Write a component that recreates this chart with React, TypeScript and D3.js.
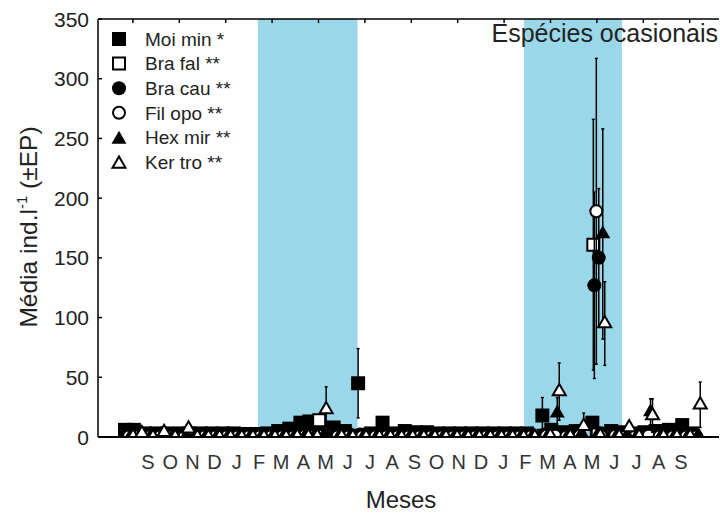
import { scaleLinear, symbol, symbolSquare, symbolCircle, symbolTriangle } from 'd3'

const MONTHS = ['S', 'O', 'N', 'D', 'J', 'F', 'M', 'A', 'M', 'J', 'J', 'A', 'S', 'O', 'N', 'D', 'J', 'F', 'M', 'A', 'M', 'J', 'J', 'A', 'S']
const Y_TICKS = [0, 50, 100, 150, 200, 250, 300, 350]
// top frame ticks, in months from the first September
const TOP_TICKS = [-0.68, 1.41, 3.5, 5.59, 7.68, 9.77, 11.86, 13.95, 16.04, 18.13, 20.22, 22.31, 24.4]
// shaded (rainy) periods, months from the first September
const SEASONS = [[4.95, 9.44], [16.94, 21.35]]

// sampling dates, months from the first September
const SAMPLES = [
  -0.9, -0.5, 0, 0.5, 1, 1.6, 2, 2.5, 3, 3.5, 4, 4.5, 5, 5.5, 6, 6.5, 7, 7.4, 7.8, 8.5,
  9, 9.6, 10.2, 10.7, 11.2, 11.7, 12.2, 12.7, 13.2, 13.7, 14.2, 14.7, 15.2, 15.7, 16.2, 16.7,
  17.2, 17.9, 18.3, 18.8, 19.4, 20.15, 20.35, 21, 21.45, 21.9, 22.5, 23, 23.6, 24.2, 24.65,
]

const MOI_MIN = [6, 6, 3, 3, 3, 3, 3, 3, 3, 3, 3, 2.5, 2.5, 3, 5, 7, 12, 13, 10, 8, 5, 45, 3, 12, 3, 5, 4, 4, 3, 3, 3, 3, 3, 3, 3, 3, 3, 18, 6, 4, 5, 12, 3, 5, 4, 3, 4, 5, 6, 10, 3]
const MOI_MIN_EP = [2, 1, 0, 0, 0, 0, 0, 0, 0, 0, 0, 0, 0, 0, 1, 2, 3, 3, 2, 2, 1, 29, 0, 3, 0, 0, 0, 0, 0, 0, 0, 0, 0, 0, 0, 0, 0, 15, 2, 1, 1, 3, 0, 1, 0, 0, 0, 1, 1, 2, 0]
const BRA_FAL = [1, 0.5, 0.5, 0.5, 0.5, 0.5, 0.5, 0.5, 0.5, 0.5, 0.5, 0.5, 0.5, 0.5, 1, 1, 2, 2, 14, 1, 0.5, 1, 0.5, 0.5, 0.5, 0.5, 0.5, 0.5, 0.5, 0.5, 0.5, 0.5, 0.5, 0.5, 0.5, 0.5, 0.5, 1, 1, 0.5, 1, 161, 2, 1, 0.5, 0.5, 1, 0.5, 0.5, 0.5, 0.5]
const BRA_FAL_EP = [0, 0, 0, 0, 0, 0, 0, 0, 0, 0, 0, 0, 0, 0, 0, 0, 0, 0, 3, 0, 0, 0, 0, 0, 0, 0, 0, 0, 0, 0, 0, 0, 0, 0, 0, 0, 0, 0, 0, 0, 0, 105, 0, 0, 0, 0, 0, 0, 0, 0, 0]
const BRA_CAU = [2, 2, 2, 2, 2, 2, 2, 2, 2, 2, 2, 2, 2, 2, 2, 2, 2, 2, 2, 2, 2, 2, 2, 2, 2, 2, 2, 2, 2, 2, 2, 2, 2, 2, 2, 2, 2, 2, 2, 2, 2, 127, 150, 2, 2, 2, 2, 2, 2, 2, 2]
const BRA_CAU_EP = [0, 0, 0, 0, 0, 0, 0, 0, 0, 0, 0, 0, 0, 0, 0, 0, 0, 0, 0, 0, 0, 0, 0, 0, 0, 0, 0, 0, 0, 0, 0, 0, 0, 0, 0, 0, 0, 0, 0, 0, 0, 78, 58, 0, 0, 0, 0, 0, 0, 0, 0]
const FIL_OPO = [0.5, 0.5, 0.5, 0.5, 0.5, 0.5, 0.5, 0.5, 0.5, 0.5, 0.5, 0.5, 0.5, 0.5, 0.5, 0.5, 1, 1, 1, 0.5, 0.5, 0.5, 0.5, 0.5, 0.5, 0.5, 0.5, 0.5, 0.5, 0.5, 0.5, 0.5, 0.5, 0.5, 0.5, 0.5, 0.5, 1, 1, 0.5, 1, 189, 1, 1, 0.5, 0.5, 1, 0.5, 0.5, 0.5, 0.5]
const FIL_OPO_EP = [0, 0, 0, 0, 0, 0, 0, 0, 0, 0, 0, 0, 0, 0, 0, 0, 0, 0, 0, 0, 0, 0, 0, 0, 0, 0, 0, 0, 0, 0, 0, 0, 0, 0, 0, 0, 0, 0, 0, 0, 0, 128, 0, 0, 0, 0, 0, 0, 0, 0, 0]
const HEX_MIR = [1.5, 1.5, 1.5, 1.5, 1.5, 1.5, 1.5, 1.5, 1.5, 1.5, 1.5, 1.5, 1.5, 1.5, 1.5, 2, 3, 3, 2, 1.5, 1.5, 1.5, 1.5, 1.5, 1.5, 1.5, 1.5, 1.5, 1.5, 1.5, 1.5, 1.5, 1.5, 1.5, 1.5, 1.5, 1.5, 2, 20, 2, 3, 3, 170, 2, 1.5, 1.5, 21, 2, 1.5, 1.5, 1.5]
const HEX_MIR_EP = [0, 0, 0, 0, 0, 0, 0, 0, 0, 0, 0, 0, 0, 0, 0, 0, 0, 0, 0, 0, 0, 0, 0, 0, 0, 0, 0, 0, 0, 0, 0, 0, 0, 0, 0, 0, 0, 0, 13, 0, 0, 0, 88, 0, 0, 0, 11, 0, 0, 0, 0]
const KER_TRO = [0.5, 3, 0, 4, 0, 7, 0, 0, 0, 0, 0, 0, 0, 0, 0, 0.5, 0.5, 0.5, 23, 0.5, 0, 0, 0, 0, 0, 0, 0, 0, 0, 0, 0, 0, 0, 0, 0, 0, 0, 1, 38, 0.5, 9, 1, 95, 0.5, 8, 0.5, 18, 0.5, 0.5, 0.5, 27]
const KER_TRO_EP = [0, 0, 0, 0, 0, 1, 0, 0, 0, 0, 0, 0, 0, 0, 0, 0, 0, 0, 19, 0, 0, 0, 0, 0, 0, 0, 0, 0, 0, 0, 0, 0, 0, 0, 0, 0, 0, 0, 24, 0, 11, 0, 35, 0, 2, 0, 14, 0, 0, 0, 19]

const SPECIES = [
  { label: 'Moi min *', values: MOI_MIN, ep: MOI_MIN_EP },
  { label: 'Bra fal **', values: BRA_FAL, ep: BRA_FAL_EP },
  { label: 'Bra cau **', values: BRA_CAU, ep: BRA_CAU_EP },
  { label: 'Fil opo **', values: FIL_OPO, ep: FIL_OPO_EP },
  { label: 'Hex mir **', values: HEX_MIR, ep: HEX_MIR_EP },
  { label: 'Ker tro **', values: KER_TRO, ep: KER_TRO_EP },
]

// marker style per species (same order as SPECIES)
const MARKERS = [
  { type: symbolSquare, filled: true, size: 14 * 14, dx: -3 },
  { type: symbolSquare, filled: false, size: 12 * 12, dx: -2 },
  { type: symbolCircle, filled: true, size: Math.PI * 7 * 7, dx: -1 },
  { type: symbolCircle, filled: false, size: Math.PI * 6 * 6, dx: 1 },
  { type: symbolTriangle, filled: true, size: 97, dx: 3 },
  { type: symbolTriangle, filled: false, size: 73, dx: 5 },
]

const FONT = "'Liberation Sans', Arial, Helvetica, sans-serif"

export default function App() {
  const width = 720
  const height = 516
  const plot = { left: 98, right: 719, top: 19, bottom: 437 }

  const x = scaleLinear().domain([0, 24]).range([148, 680.8])
  const y = scaleLinear().domain([0, 350]).range([plot.bottom, plot.top])

  return (
    <svg width={width} height={height} style={{ display: 'block', fontFamily: FONT }}>
      <style>{`body{margin:0}`}</style>
      <defs>
        <clipPath id='plot-clip'>
          <rect x={plot.left} y={plot.top} width={plot.right - plot.left} height={plot.bottom - plot.top} />
        </clipPath>
      </defs>
      <rect width={width} height={height} fill='#fff' />

      {/* Shaded periods */}
      {SEASONS.map(([a, b], i) => (
        <rect key={i} x={x(a)} y={plot.top} width={x(b) - x(a)} height={plot.bottom - plot.top} fill='#9AD8E9' />
      ))}

      {/* Title */}
      <text x={plot.right - 1} y={42} textAnchor='end' fontSize={25} fill='#222'>
        Espécies ocasionais
      </text>

      {/* Data */}
      <g clipPath='url(#plot-clip)'>
        {SPECIES.map((s, si) => {
          const m = MARKERS[si]
          const path = symbol().type(m.type).size(m.size)()
          return (
            <g key={si}>
              {s.values.map((v, i) => {
                const e = s.ep[i]
                if (!e) return null
                const cx = x(SAMPLES[i]) + m.dx
                const y1 = y(v + e)
                const y2 = y(Math.max(0, v - e))
                return (
                  <g key={'e' + i} stroke='#000' strokeWidth={1.5}>
                    <line x1={cx} x2={cx} y1={y1} y2={y2} />
                    <line x1={cx - 1.5} x2={cx + 1.5} y1={y1} y2={y1} />
                    <line x1={cx - 1.5} x2={cx + 1.5} y1={y2} y2={y2} />
                  </g>
                )
              })}
              {s.values.map((v, i) => (
                <path
                  key={'m' + i}
                  d={path!}
                  transform={`translate(${x(SAMPLES[i]) + m.dx},${y(v)})`}
                  fill={m.filled ? '#000' : '#fff'}
                  stroke='#000'
                  strokeWidth={m.filled ? 0 : 2}
                />
              ))}
            </g>
          )
        })}
      </g>

      {/* Frame */}
      <line x1={plot.left} x2={plot.left} y1={plot.top} y2={plot.bottom} stroke='#000' strokeWidth={1.5} />
      <line x1={plot.left} x2={plot.right} y1={plot.top} y2={plot.top} stroke='#000' strokeWidth={1.5} />
      <line x1={plot.left} x2={plot.right} y1={plot.bottom} y2={plot.bottom} stroke='#000' strokeWidth={2} />
      {TOP_TICKS.map((t, i) => (
        <line key={i} x1={x(t)} x2={x(t)} y1={plot.top} y2={plot.top + 4} stroke='#000' strokeWidth={1.5} />
      ))}

      {/* Y axis */}
      {Y_TICKS.map((t) => (
        <g key={t} transform={`translate(0,${y(t)})`}>
          <line x1={plot.left} x2={plot.left + 4} stroke='#000' strokeWidth={1.5} />
          <text x={89} dy='0.36em' textAnchor='end' fontSize={21} fill='#222'>
            {t}
          </text>
        </g>
      ))}
      <text transform={`translate(37,227) rotate(-90)`} textAnchor='middle' fontSize={24.5} fill='#222'>
        Média ind.l<tspan fontSize={15} dy={-10}>-1</tspan>
        <tspan dy={10}> (±EP)</tspan>
      </text>

      {/* X axis */}
      {MONTHS.map((mo, i) => (
        <text key={i} x={x(i)} y={469} textAnchor='middle' fontSize={20} fill='#333'>
          {mo}
        </text>
      ))}
      <text x={401} y={508} textAnchor='middle' fontSize={24} fill='#222'>
        Meses
      </text>

      {/* Legend */}
      {SPECIES.map((s, i) => {
        const m = MARKERS[i]
        const ly = 39 + i * 24.6
        const path = symbol().type(m.type).size(m.size)()
        return (
          <g key={i} transform={`translate(119,${ly})`}>
            <path
              d={path!}
              transform={m.type === symbolTriangle ? 'translate(0,2)' : undefined}
              fill={m.filled ? '#000' : '#fff'}
              stroke='#000'
              strokeWidth={m.filled ? 0 : 2}
            />
            <text x={26} dy='0.36em' fontSize={19} fill='#222'>
              {s.label}
            </text>
          </g>
        )
      })}
    </svg>
  )
}
